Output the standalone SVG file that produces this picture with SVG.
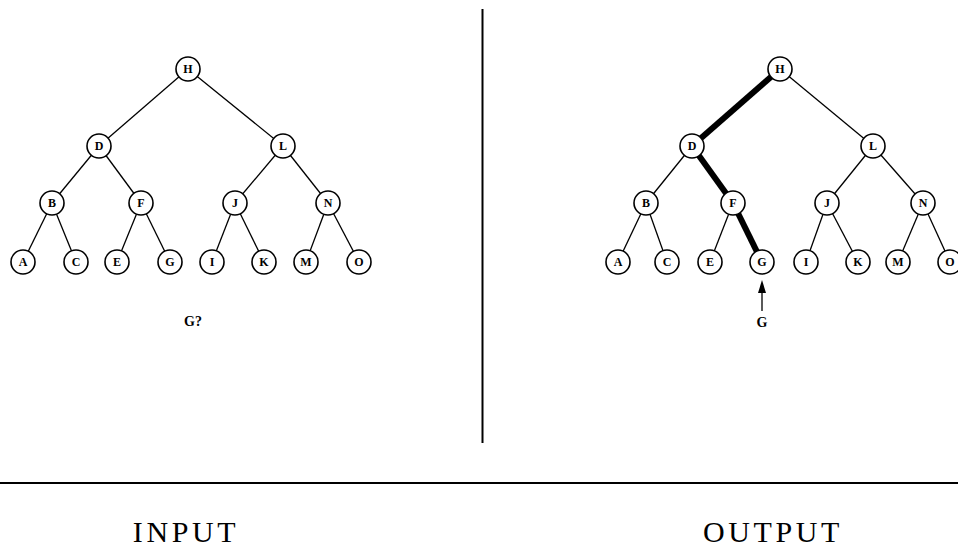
<svg xmlns="http://www.w3.org/2000/svg" width="958" height="548" viewBox="0 0 958 548">
<defs>
<style>
.edge{stroke:#000;stroke-width:1.3;fill:none}
.path{stroke:#000;stroke-width:6;fill:none}
.node circle{fill:#fff;stroke:#000;stroke-width:1.6}
.node text{font-family:"Liberation Serif",serif;font-size:12px;font-weight:bold;text-anchor:middle;fill:#000}
.lbl{font-family:"Liberation Serif",serif;font-size:14px;font-weight:bold;text-anchor:middle;fill:#000}
.title{font-family:"Liberation Serif",serif;font-size:30px;text-anchor:middle;fill:#000;letter-spacing:3.6px}
.rule{stroke:#000;stroke-width:2}
.head{fill:#000}
</style>
</defs>
<rect width="958" height="548" fill="#fff"/>
<g id="frame">
<line class="rule" x1="482.5" y1="9" x2="482.5" y2="443"/>
<line class="rule" x1="0" y1="483" x2="958" y2="483"/>
<text class="title" x="186" y="542">INPUT</text>
<text class="title" x="773" y="542">OUTPUT</text>
</g>
<g id="connectors">
<line class="edge" x1="188" y1="69" x2="99" y2="146"/>
<line class="edge" x1="188" y1="69" x2="283" y2="146"/>
<line class="edge" x1="99" y1="146" x2="52" y2="203"/>
<line class="edge" x1="99" y1="146" x2="141" y2="203"/>
<line class="edge" x1="283" y1="146" x2="235" y2="203"/>
<line class="edge" x1="283" y1="146" x2="328" y2="203"/>
<line class="edge" x1="52" y1="203" x2="23" y2="262"/>
<line class="edge" x1="52" y1="203" x2="76" y2="262"/>
<line class="edge" x1="141" y1="203" x2="117" y2="262"/>
<line class="edge" x1="141" y1="203" x2="170" y2="262"/>
<line class="edge" x1="235" y1="203" x2="212" y2="262"/>
<line class="edge" x1="235" y1="203" x2="264" y2="262"/>
<line class="edge" x1="328" y1="203" x2="306" y2="262"/>
<line class="edge" x1="328" y1="203" x2="359" y2="262"/>
<line class="path" x1="780" y1="69" x2="692" y2="146"/>
<line class="edge" x1="780" y1="69" x2="873" y2="146"/>
<line class="edge" x1="692" y1="146" x2="646" y2="203"/>
<line class="path" x1="692" y1="146" x2="733" y2="203"/>
<line class="edge" x1="873" y1="146" x2="827" y2="203"/>
<line class="edge" x1="873" y1="146" x2="923" y2="203"/>
<line class="edge" x1="646" y1="203" x2="618" y2="262"/>
<line class="edge" x1="646" y1="203" x2="667" y2="262"/>
<line class="edge" x1="733" y1="203" x2="710" y2="262"/>
<line class="path" x1="733" y1="203" x2="762" y2="262"/>
<line class="edge" x1="827" y1="203" x2="806" y2="262"/>
<line class="edge" x1="827" y1="203" x2="858" y2="262"/>
<line class="edge" x1="923" y1="203" x2="898" y2="262"/>
<line class="edge" x1="923" y1="203" x2="950" y2="262"/>
<line class="edge" x1="762" y1="311" x2="762" y2="290"/>
<polygon class="head" points="762,280 766,293 758,293"/>
</g>
<g id="in-H" class="node"><circle cx="188" cy="69" r="12"/><text x="188" y="73">H</text></g>
<g id="in-D" class="node"><circle cx="99" cy="146" r="12"/><text x="99" y="150">D</text></g>
<g id="in-L" class="node"><circle cx="283" cy="146" r="12"/><text x="283" y="150">L</text></g>
<g id="in-B" class="node"><circle cx="52" cy="203" r="12"/><text x="52" y="207">B</text></g>
<g id="in-F" class="node"><circle cx="141" cy="203" r="12"/><text x="141" y="207">F</text></g>
<g id="in-J" class="node"><circle cx="235" cy="203" r="12"/><text x="235" y="207">J</text></g>
<g id="in-N" class="node"><circle cx="328" cy="203" r="12"/><text x="328" y="207">N</text></g>
<g id="in-A" class="node"><circle cx="23" cy="262" r="12"/><text x="23" y="266">A</text></g>
<g id="in-C" class="node"><circle cx="76" cy="262" r="12"/><text x="76" y="266">C</text></g>
<g id="in-E" class="node"><circle cx="117" cy="262" r="12"/><text x="117" y="266">E</text></g>
<g id="in-G" class="node"><circle cx="170" cy="262" r="12"/><text x="170" y="266">G</text></g>
<g id="in-I" class="node"><circle cx="212" cy="262" r="12"/><text x="212" y="266">I</text></g>
<g id="in-K" class="node"><circle cx="264" cy="262" r="12"/><text x="264" y="266">K</text></g>
<g id="in-M" class="node"><circle cx="306" cy="262" r="12"/><text x="306" y="266">M</text></g>
<g id="in-O" class="node"><circle cx="359" cy="262" r="12"/><text x="359" y="266">O</text></g>
<g id="in-query"><text class="lbl" x="193" y="326">G?</text></g>
<g id="out-H" class="node"><circle cx="780" cy="69" r="12"/><text x="780" y="73">H</text></g>
<g id="out-D" class="node"><circle cx="692" cy="146" r="12"/><text x="692" y="150">D</text></g>
<g id="out-L" class="node"><circle cx="873" cy="146" r="12"/><text x="873" y="150">L</text></g>
<g id="out-B" class="node"><circle cx="646" cy="203" r="12"/><text x="646" y="207">B</text></g>
<g id="out-F" class="node"><circle cx="733" cy="203" r="12"/><text x="733" y="207">F</text></g>
<g id="out-J" class="node"><circle cx="827" cy="203" r="12"/><text x="827" y="207">J</text></g>
<g id="out-N" class="node"><circle cx="923" cy="203" r="12"/><text x="923" y="207">N</text></g>
<g id="out-A" class="node"><circle cx="618" cy="262" r="12"/><text x="618" y="266">A</text></g>
<g id="out-C" class="node"><circle cx="667" cy="262" r="12"/><text x="667" y="266">C</text></g>
<g id="out-E" class="node"><circle cx="710" cy="262" r="12"/><text x="710" y="266">E</text></g>
<g id="out-G" class="node"><circle cx="762" cy="262" r="12"/><text x="762" y="266">G</text></g>
<g id="out-I" class="node"><circle cx="806" cy="262" r="12"/><text x="806" y="266">I</text></g>
<g id="out-K" class="node"><circle cx="858" cy="262" r="12"/><text x="858" y="266">K</text></g>
<g id="out-M" class="node"><circle cx="898" cy="262" r="12"/><text x="898" y="266">M</text></g>
<g id="out-O" class="node"><circle cx="950" cy="262" r="12"/><text x="950" y="266">O</text></g>
<g id="out-result"><text class="lbl" x="762" y="327">G</text></g>
</svg>
